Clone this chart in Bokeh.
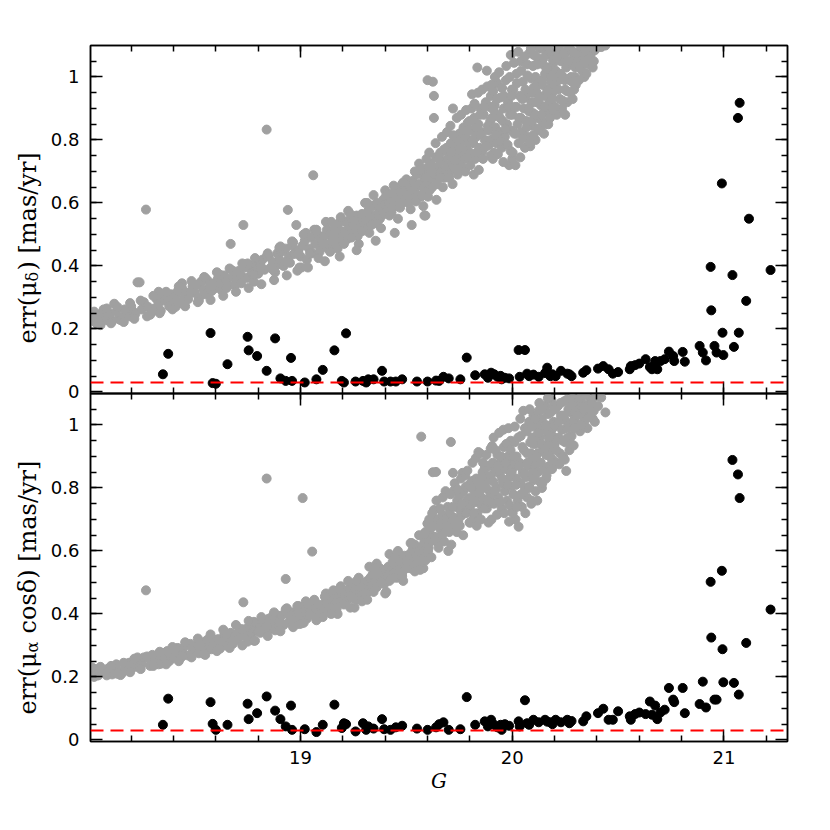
import math
import numpy as np
from bokeh.plotting import figure
from bokeh.models import (Range1d, LinearAxis, FixedTicker, NumeralTickFormatter,
                          CustomJSTickFormatter, Span)
from bokeh.core.properties import value
from bokeh.layouts import column, row
from bokeh.embed import file_html
from bokeh.resources import INLINE

# ---------------- data ----------------
# stars with good astrometry (black) : G, err(mu_delta), err(mu_alpha cos delta)
black_g = [18.35, 18.375, 18.575, 18.585, 18.60, 18.655, 18.75, 18.755, 18.795, 18.84,
           18.88, 18.905, 18.93, 18.955, 18.96, 19.02, 19.075, 19.105, 19.16, 19.195,
           19.205, 19.215, 19.26, 19.295, 19.31, 19.32, 19.345, 19.385, 19.395, 19.425,
           19.45, 19.48, 19.55, 19.60, 19.64, 19.655, 19.675, 19.70, 19.755, 19.785,
           19.825, 19.87, 19.885, 19.90, 19.915, 19.93, 19.945, 19.95, 19.965, 19.985,
           20.03, 20.035, 20.06, 20.07, 20.08, 20.10, 20.125, 20.155, 20.165, 20.18,
           20.19, 20.205, 20.23, 20.26, 20.27, 20.28, 20.335, 20.35, 20.405, 20.43,
           20.455, 20.475, 20.50, 20.555, 20.56, 20.58, 20.60, 20.63, 20.65, 20.66,
           20.675, 20.685, 20.70, 20.72, 20.74, 20.76, 20.765, 20.805, 20.815, 20.885,
           20.90, 20.915, 20.937, 20.94, 20.955, 20.965, 20.99, 20.993, 20.997, 21.04,
           21.047, 21.066, 21.07, 21.074, 21.105, 21.118, 21.22]
black_err_dec = [0.056, 0.121, 0.187, 0.028, 0.026, 0.088, 0.175, 0.132, 0.114, 0.067,
                 0.170, 0.043, 0.035, 0.108, 0.035, 0.030, 0.040, 0.070, 0.132, 0.035,
                 0.030, 0.186, 0.033, 0.035, 0.030, 0.040, 0.040, 0.067, 0.033, 0.033,
                 0.033, 0.040, 0.033, 0.033, 0.036, 0.035, 0.048, 0.043, 0.040, 0.109,
                 0.053, 0.056, 0.045, 0.061, 0.056, 0.048, 0.051, 0.040, 0.045, 0.043,
                 0.133, 0.048, 0.133, 0.058, 0.050, 0.055, 0.048, 0.060, 0.077, 0.050,
                 0.056, 0.050, 0.067, 0.058, 0.056, 0.050, 0.061, 0.069, 0.074, 0.082,
                 0.072, 0.058, 0.063, 0.072, 0.082, 0.085, 0.090, 0.104, 0.079, 0.072,
                 0.098, 0.072, 0.098, 0.104, 0.128, 0.114, 0.098, 0.127, 0.096, 0.146,
                 0.125, 0.100, 0.397, 0.259, 0.146, 0.125, 0.662, 0.188, 0.117, 0.371,
                 0.143, 0.870, 0.188, 0.918, 0.289, 0.550, 0.387]
black_err_ra = [0.048, 0.131, 0.120, 0.051, 0.032, 0.048, 0.115, 0.066, 0.085, 0.138,
                0.093, 0.066, 0.043, 0.109, 0.032, 0.034, 0.025, 0.048, 0.112, 0.038,
                0.053, 0.050, 0.027, 0.053, 0.032, 0.043, 0.036, 0.066, 0.034, 0.032,
                0.040, 0.045, 0.036, 0.032, 0.040, 0.050, 0.056, 0.032, 0.034, 0.136,
                0.048, 0.059, 0.043, 0.064, 0.048, 0.040, 0.048, 0.032, 0.050, 0.045,
                0.059, 0.043, 0.126, 0.053, 0.048, 0.064, 0.056, 0.064, 0.058, 0.056,
                0.050, 0.064, 0.056, 0.064, 0.053, 0.060, 0.059, 0.075, 0.085, 0.099,
                0.064, 0.064, 0.091, 0.075, 0.064, 0.082, 0.087, 0.082, 0.122, 0.080,
                0.109, 0.066, 0.087, 0.096, 0.165, 0.128, 0.120, 0.165, 0.085, 0.114,
                0.185, 0.103, 0.502, 0.325, 0.128, 0.128, 0.537, 0.288, 0.183, 0.889,
                0.181, 0.843, 0.144, 0.768, 0.308, float("nan"), 0.414]

# all other stars (gray)
gray_g = [
    18.01, 18.02, 18.03, 18.04, 18.05, 18.06, 18.08, 18.09,
    18.11, 18.12, 18.14, 18.15, 18.16, 18.18, 18.19,
    18.21, 18.22, 18.23, 18.24, 18.25, 18.27, 18.28, 18.29,
    18.31, 18.32, 18.33, 18.34, 18.35, 18.36, 18.38, 18.39,
    18.40, 18.41, 18.42, 18.43, 18.44, 18.45, 18.46, 18.47, 18.49,
    18.50, 18.51, 18.52, 18.53, 18.54, 18.55, 18.56, 18.57, 18.58, 18.59,
    18.60, 18.61, 18.62, 18.63, 18.64, 18.65, 18.66, 18.67, 18.68, 18.69,
    18.70, 18.71, 18.72, 18.73, 18.74, 18.75, 18.76, 18.77, 18.78, 18.79, 18.795,
    18.80, 18.81, 18.82, 18.83, 18.84, 18.85, 18.86, 18.87, 18.88, 18.89, 18.895,
    18.90, 18.91, 18.92, 18.93, 18.94, 18.945, 18.95, 18.96, 18.97, 18.98, 18.99, 18.995,
    19.00, 19.01, 19.02, 19.03, 19.04, 19.05, 19.055, 19.06, 19.07, 19.08, 19.09, 19.095, 19.10,
    19.11, 19.12, 19.125, 19.13, 19.14, 19.15, 19.16, 19.165, 19.17, 19.18, 19.19, 19.195, 19.20,
    19.21, 19.215, 19.22, 19.23, 19.24, 19.245, 19.25, 19.26, 19.265, 19.27, 19.28, 19.285, 19.29, 19.30,
    19.31, 19.315, 19.32, 19.33, 19.335, 19.34, 19.35, 19.355, 19.36, 19.37, 19.375, 19.38, 19.39, 19.395, 19.40,
    19.41, 19.415, 19.42, 19.43, 19.435, 19.44, 19.45, 19.455, 19.46, 19.47, 19.475, 19.48, 19.49, 19.495, 19.50,
    19.51, 19.515, 19.52, 19.53, 19.535, 19.54, 19.55, 19.555, 19.56, 19.57, 19.575, 19.58, 19.585, 19.59, 19.595, 19.60,
    19.60, 19.605, 19.61, 19.615, 19.62, 19.625, 19.63, 19.63, 19.635, 19.64, 19.645, 19.65, 19.66, 19.665, 19.67, 19.68, 19.69, 19.695,
    19.70, 19.705, 19.71, 19.715, 19.72, 19.725, 19.73, 19.735, 19.74, 19.745, 19.75, 19.755, 19.76, 19.765, 19.77, 19.775, 19.78, 19.785, 19.79, 19.795,
    19.80, 19.805, 19.81, 19.815, 19.82, 19.825, 19.83, 19.835, 19.84, 19.845, 19.85, 19.855, 19.86, 19.865, 19.87, 19.875, 19.88, 19.885, 19.89, 19.893, 19.896, 19.899,
    19.90, 19.905, 19.91, 19.913, 19.917, 19.92, 19.925, 19.93, 19.935, 19.94, 19.945, 19.95, 19.955, 19.96, 19.965, 19.97, 19.975, 19.98, 19.985, 19.99, 19.993, 19.996, 19.998, 20.00,
    20.00, 20.005, 20.01, 20.015, 20.02, 20.02, 20.025, 20.03, 20.035, 20.04, 20.04, 20.045, 20.05, 20.055, 20.06, 20.06, 20.065, 20.07, 20.07, 20.075, 20.08, 20.08, 20.085, 20.09, 20.09, 20.095, 20.10, 20.10,
    20.105, 20.11, 20.11, 20.115, 20.12, 20.12, 20.125, 20.13, 20.13, 20.135, 20.14, 20.14, 20.145, 20.15, 20.15, 20.155, 20.16, 20.16, 20.165, 20.17, 20.17, 20.175, 20.18, 20.18, 20.185, 20.19, 20.19, 20.195,
    20.20, 20.205, 20.21, 20.215, 20.22, 20.225, 20.23, 20.235, 20.24, 20.245, 20.25, 20.25, 20.255, 20.26, 20.265, 20.27, 20.275, 20.28, 20.285, 20.29, 20.295, 20.30,
    20.31, 20.315, 20.32, 20.33, 20.335, 20.34, 20.35, 20.355, 20.36, 20.37, 20.38, 20.39, 20.42, 20.44,
    18.015, 18.045, 18.07, 18.10, 18.13, 18.17, 18.20, 18.26, 18.30, 18.33, 18.37, 18.41, 18.44, 18.48, 18.52,
    18.55, 18.58, 18.62, 18.65, 18.68, 18.72, 18.75, 18.78, 18.81, 18.84, 18.87, 18.90, 18.93, 18.96, 18.99,
    19.005, 19.025, 19.045, 19.065, 19.085, 19.105, 19.12, 19.14, 19.155, 19.175, 19.19, 19.205, 19.225, 19.24, 19.255, 19.275, 19.29, 19.305,
    19.325, 19.345, 19.36, 19.38, 19.40, 19.42, 19.44, 19.46, 19.48, 19.50, 19.52, 19.54, 19.545, 19.56, 19.58, 19.59, 19.59, 19.595,
    19.602, 19.608, 19.618, 19.622, 19.638, 19.642, 19.652, 19.658, 19.668, 19.672, 19.678, 19.685, 19.692, 19.698,
    19.702, 19.708, 19.712, 19.718, 19.722, 19.728, 19.738, 19.742, 19.752, 19.758, 19.762, 19.768, 19.778, 19.782, 19.788, 19.798,
    19.802, 19.808, 19.812, 19.818, 19.822, 19.828, 19.832, 19.838, 19.842, 19.848, 19.852, 19.858, 19.862, 19.868, 19.878, 19.882, 19.888, 19.898,
    19.902, 19.908, 19.912, 19.918, 19.922, 19.928, 19.932, 19.938, 19.942, 19.948, 19.952, 19.958, 19.962, 19.968, 19.972, 19.978, 19.982, 19.988, 19.992, 19.997,
    20.002, 20.008, 20.012, 20.018, 20.022, 20.028, 20.032, 20.038, 20.042, 20.048, 20.052, 20.058, 20.062, 20.068, 20.072, 20.078, 20.082, 20.088, 20.092, 20.095, 20.098, 20.099,
    20.102, 20.108, 20.112, 20.118, 20.122, 20.128, 20.132, 20.138, 20.142, 20.148, 20.152, 20.158, 20.162, 20.168, 20.172, 20.178, 20.182, 20.188, 20.192, 20.196, 20.198, 20.199,
    20.202, 20.208, 20.218, 20.222, 20.228, 20.238, 20.242, 20.248, 20.258, 20.262, 20.268, 20.278, 20.282, 20.288, 20.292, 20.298,
    20.305, 20.318, 20.325, 20.338, 20.345, 20.365, 20.375, 20.385, 20.395, 20.405,
    18.025, 18.055, 18.085, 18.105, 18.135, 18.165, 18.195, 18.215, 18.245, 18.275,
    18.305, 18.335, 18.365, 18.395, 18.425, 18.455, 18.485, 18.515, 18.545, 18.575,
    18.605, 18.635, 18.665, 18.695, 18.725, 18.755, 18.785, 18.815, 18.845, 18.875,
    18.905, 18.935, 18.965, 18.985, 19.015, 19.035, 19.075, 19.115, 19.145, 19.185,
    19.235, 19.265, 19.315, 19.355, 19.405, 19.445, 19.485, 19.525, 19.565, 19.585,
]
gray_err_dec = [
    0.230, 0.225, 0.245, 0.215, 0.235, 0.250, 0.228, 0.240,
    0.225, 0.280, 0.232, 0.228, 0.238, 0.245, 0.240,
    0.255, 0.248, 0.348, 0.348, 0.262, 0.579, 0.270, 0.245,
    0.265, 0.295, 0.280, 0.258, 0.300, 0.290, 0.272, 0.310,
    0.290, 0.305, 0.320, 0.282, 0.330, 0.300, 0.315, 0.295, 0.335,
    0.315, 0.340, 0.300, 0.350, 0.325, 0.310, 0.355, 0.335, 0.320, 0.345,
    0.330, 0.360, 0.345, 0.320, 0.370, 0.352, 0.338, 0.470, 0.365, 0.340,
    0.355, 0.385, 0.370, 0.530, 0.395, 0.362, 0.400, 0.378, 0.350, 0.410, 0.390,
    0.375, 0.405, 0.420, 0.388, 0.833, 0.430, 0.395, 0.412, 0.380, 0.440, 0.405,
    0.420, 0.445, 0.400, 0.455, 0.578, 0.430, 0.410, 0.465, 0.438, 0.530, 0.450, 0.395,
    0.430, 0.465, 0.480, 0.420, 0.455, 0.490, 0.440, 0.688, 0.470, 0.500, 0.445, 0.485, 0.460,
    0.495, 0.470, 0.515, 0.455, 0.500, 0.480, 0.520, 0.465, 0.505, 0.535, 0.485, 0.510, 0.495,
    0.510, 0.540, 0.485, 0.525, 0.550, 0.500, 0.530, 0.515, 0.560, 0.495, 0.540, 0.520, 0.565, 0.530,
    0.545, 0.520, 0.575, 0.555, 0.530, 0.590, 0.560, 0.540, 0.600, 0.570, 0.550, 0.585, 0.610, 0.565, 0.595,
    0.580, 0.615, 0.600, 0.570, 0.630, 0.605, 0.590, 0.645, 0.615, 0.585, 0.630, 0.660, 0.610, 0.640, 0.625,
    0.600, 0.655, 0.630, 0.670, 0.615, 0.645, 0.690, 0.625, 0.660, 0.620, 0.700, 0.650, 0.680, 0.635, 0.710, 0.665,
    0.990, 0.700, 0.640, 0.725, 0.680, 0.985, 0.940, 0.870, 0.690, 0.745, 0.660, 0.715, 0.760, 0.700, 0.735, 0.680, 0.775, 0.720,
    0.750, 0.700, 0.790, 0.730, 0.900, 0.765, 0.710, 0.805, 0.745, 0.780, 0.820, 0.725, 0.795, 0.760, 0.840, 0.740, 0.810, 0.770, 0.855, 0.790,
    0.760, 0.830, 0.945, 0.790, 0.870, 0.740, 0.810, 1.030, 0.850, 0.775, 0.900, 0.825, 0.765, 0.880, 0.800, 0.920, 1.020, 0.845, 0.785, 0.905, 0.860, 0.940,
    0.800, 0.870, 0.955, 0.760, 0.910, 0.840, 0.790, 0.980, 0.880, 0.825, 0.935, 0.775, 0.860, 0.900, 0.810, 0.990, 0.850, 0.920, 0.720, 0.880, 1.070, 0.830, 0.960, 0.740,
    0.880, 0.960, 0.820, 0.720, 1.010, 0.905, 0.850, 0.790, 0.940, 0.870, 1.050, 0.825, 0.985, 0.900, 0.775, 0.935, 0.860, 1.040, 0.810, 0.950, 0.890, 1.075, 0.780, 0.920, 0.995, 0.845, 0.965, 0.885,
    0.920, 1.000, 0.800, 0.950, 1.060, 0.870, 0.980, 0.830, 1.090, 0.910, 0.990, 0.860, 1.040, 0.940, 0.820, 1.010, 0.890, 1.080, 0.960, 0.850, 1.030, 0.920, 1.000, 0.880, 1.070, 0.950, 0.900, 1.045,
    0.960, 1.020, 0.880, 1.080, 0.990, 0.930, 1.050, 0.900, 1.000, 1.070, 0.880, 0.960, 1.030, 0.920, 1.085, 0.990, 0.950, 1.040, 0.930, 1.065, 1.000, 0.975,
    1.050, 0.990, 1.080, 1.020, 1.060, 1.000, 1.010, 1.090, 1.040, 1.070, 1.030, 1.085, 1.095, 1.100,
    0.240, 0.220, 0.262, 0.248, 0.255, 0.262, 0.272, 0.285, 0.255, 0.318, 0.300, 0.270, 0.345, 0.318, 0.290,
    0.362, 0.335, 0.372, 0.330, 0.385, 0.345, 0.408, 0.372, 0.395, 0.430, 0.388, 0.458, 0.412, 0.478, 0.440,
    0.395, 0.505, 0.440, 0.515, 0.425, 0.470, 0.540, 0.445, 0.490, 0.455, 0.555, 0.470, 0.575, 0.490, 0.545, 0.470, 0.510, 0.600,
    0.505, 0.625, 0.535, 0.520, 0.640, 0.560, 0.655, 0.550, 0.600, 0.675, 0.580, 0.700, 0.605, 0.725, 0.590, 0.680, 0.560, 0.740,
    0.620, 0.760, 0.700, 0.650, 0.790, 0.610, 0.740, 0.680, 0.810, 0.650, 0.770, 0.705, 0.825, 0.690,
    0.680, 0.845, 0.760, 0.660, 0.815, 0.735, 0.870, 0.690, 0.775, 0.880, 0.715, 0.830, 0.700, 0.895, 0.745, 0.860,
    0.720, 0.900, 0.800, 0.690, 0.915, 0.840, 0.760, 0.950, 0.705, 0.880, 0.820, 0.960, 0.740, 0.905, 0.780, 0.970, 0.830, 0.750,
    0.975, 0.740, 0.895, 1.000, 0.815, 0.930, 0.755, 1.015, 0.870, 0.795, 0.965, 0.730, 0.940, 0.835, 1.035, 0.785, 0.905, 1.000, 0.765, 0.940,
    0.760, 1.045, 0.905, 0.820, 0.980, 1.080, 0.870, 0.745, 1.020, 0.930, 0.805, 1.065, 0.960, 0.840, 1.005, 0.900, 0.790, 1.090, 0.860, 0.950, 1.035, 0.815,
    1.070, 0.880, 0.970, 1.040, 0.835, 0.935, 1.095, 0.880, 0.975, 1.060, 0.905, 0.850, 1.025, 0.955, 1.090, 0.870, 0.985, 0.930, 1.055, 0.895, 1.010, 0.975,
    0.905, 1.060, 0.960, 1.095, 1.010, 0.925, 1.075, 0.990, 0.955, 1.050, 1.095, 1.000, 0.985, 1.080, 0.960, 1.030,
    1.075, 1.035, 1.095, 1.045, 1.080, 1.060, 1.095, 1.050, 1.090, 1.100,
    0.255, 0.212, 0.265, 0.218, 0.270, 0.222, 0.282, 0.232, 0.290, 0.240,
    0.305, 0.250, 0.318, 0.262, 0.335, 0.272, 0.352, 0.285, 0.365, 0.292,
    0.380, 0.305, 0.392, 0.318, 0.408, 0.330, 0.425, 0.342, 0.440, 0.355,
    0.462, 0.370, 0.475, 0.385, 0.500, 0.395, 0.515, 0.415, 0.540, 0.430,
    0.565, 0.450, 0.600, 0.480, 0.625, 0.505, 0.665, 0.530, 0.705, 0.560,
]
gray_err_ra = [
    0.215, 0.210, 0.225, 0.205, 0.222, 0.218, 0.212, 0.226,
    0.208, 0.222, 0.216, 0.206, 0.214, 0.238, 0.245,
    0.250, 0.232, 0.262, 0.255, 0.240, 0.475, 0.258, 0.235,
    0.248, 0.268, 0.255, 0.242, 0.275, 0.260, 0.250, 0.262,
    0.262, 0.275, 0.292, 0.258, 0.285, 0.270, 0.300, 0.268, 0.280,
    0.290, 0.300, 0.275, 0.310, 0.295, 0.282, 0.318, 0.300, 0.288, 0.305,
    0.305, 0.320, 0.298, 0.312, 0.335, 0.300, 0.325, 0.340, 0.315, 0.330,
    0.318, 0.345, 0.330, 0.437, 0.352, 0.325, 0.360, 0.340, 0.315, 0.370, 0.348,
    0.345, 0.360, 0.378, 0.352, 0.830, 0.385, 0.355, 0.372, 0.348, 0.395, 0.362,
    0.380, 0.395, 0.365, 0.511, 0.400, 0.375, 0.372, 0.405, 0.388, 0.398, 0.410, 0.368,
    0.392, 0.768, 0.415, 0.385, 0.405, 0.420, 0.598, 0.398, 0.412, 0.428, 0.395, 0.418, 0.405,
    0.420, 0.440, 0.410, 0.432, 0.448, 0.425, 0.455, 0.435, 0.415, 0.462, 0.440, 0.470, 0.445,
    0.455, 0.440, 0.470, 0.480, 0.450, 0.492, 0.465, 0.478, 0.445, 0.500, 0.470, 0.485, 0.460, 0.495,
    0.480, 0.505, 0.470, 0.515, 0.490, 0.525, 0.500, 0.535, 0.485, 0.520, 0.545, 0.505, 0.530, 0.495, 0.540,
    0.520, 0.550, 0.505, 0.540, 0.565, 0.530, 0.555, 0.515, 0.575, 0.545, 0.560, 0.530, 0.585, 0.550, 0.570,
    0.560, 0.590, 0.545, 0.605, 0.575, 0.620, 0.585, 0.560, 0.600, 0.963, 0.615, 0.580, 0.630, 0.595, 0.640, 0.687,
    0.687, 0.610, 0.655, 0.630, 0.675, 0.850, 0.730, 0.687, 0.645, 0.851, 0.700, 0.625, 0.670, 0.690, 0.715, 0.660, 0.705, 0.740,
    0.690, 0.720, 0.946, 0.675, 0.848, 0.792, 0.705, 0.740, 0.760, 0.695, 0.775, 0.730, 0.712, 0.848, 0.790, 0.745, 0.803, 0.725, 0.765, 0.810,
    0.740, 0.770, 0.822, 0.700, 0.795, 0.755, 0.830, 0.720, 0.914, 0.780, 0.810, 0.745, 0.850, 0.765, 0.862, 0.800, 0.735, 0.825, 0.870, 0.790, 0.760, 0.840,
    0.780, 0.933, 0.820, 0.750, 0.870, 0.854, 0.800, 0.905, 0.770, 0.845, 0.880, 0.735, 0.815, 0.930, 0.790, 0.860, 0.760, 0.900, 0.693, 0.835, 0.950, 0.805, 0.875, 0.725,
    0.860, 0.780, 0.945, 0.700, 0.830, 0.900, 0.760, 0.677, 0.880, 0.815, 0.965, 0.740, 0.850, 0.920, 0.795, 0.990, 0.835, 0.770, 0.910, 0.870, 1.010, 0.805, 0.945, 0.750, 0.885, 0.960, 0.825, 1.030,
    0.870, 0.940, 0.790, 1.000, 0.850, 0.910, 1.045, 0.820, 0.960, 0.880, 1.020, 0.800, 0.930, 0.990, 0.860, 1.060, 0.905, 0.830, 0.975, 0.940, 1.035, 0.870, 0.995, 0.920, 1.080, 0.890, 0.965, 1.010,
    0.940, 1.000, 0.880, 1.060, 0.960, 0.910, 1.030, 0.985, 0.900, 1.075, 0.945, 1.015, 0.854, 0.990, 1.050, 0.920, 1.040, 0.965, 1.085, 0.935, 1.020, 1.060,
    1.000, 1.050, 0.980, 1.070, 1.030, 1.010, 1.060, 0.990, 1.040, 1.080, 1.020, 1.010, 1.087, 1.040,
    0.230, 0.205, 0.215, 0.220, 0.240, 0.228, 0.235, 0.262, 0.270, 0.240, 0.282, 0.290, 0.265, 0.305, 0.298,
    0.270, 0.322, 0.290, 0.335, 0.305, 0.352, 0.312, 0.375, 0.340, 0.360, 0.395, 0.372, 0.415, 0.380, 0.425,
    0.370, 0.440, 0.398, 0.445, 0.430, 0.390, 0.465, 0.420, 0.475, 0.400, 0.488, 0.430, 0.505, 0.455, 0.420, 0.515, 0.440, 0.465,
    0.550, 0.470, 0.560, 0.500, 0.465, 0.590, 0.515, 0.600, 0.520, 0.545, 0.625, 0.535, 0.560, 0.650, 0.545, 0.660, 0.570, 0.610,
    0.600, 0.700, 0.580, 0.720, 0.640, 0.760, 0.610, 0.735, 0.650, 0.770, 0.630, 0.790, 0.680, 0.600,
    0.660, 0.780, 0.620, 0.740, 0.700, 0.815, 0.660, 0.795, 0.680, 0.830, 0.750, 0.650, 0.840, 0.720, 0.855, 0.690,
    0.690, 0.800, 0.880, 0.720, 0.760, 0.895, 0.680, 0.820, 0.785, 0.910, 0.700, 0.835, 0.880, 0.735, 0.905, 0.760, 0.690, 0.925,
    0.700, 0.880, 0.960, 0.790, 0.920, 0.715, 0.870, 0.975, 0.755, 0.900, 0.830, 0.985, 0.720, 0.880, 0.940, 0.810, 0.990, 0.745, 0.920, 0.850,
    0.720, 0.900, 0.995, 0.810, 0.740, 0.960, 0.870, 1.020, 0.780, 0.930, 1.045, 0.845, 0.720, 0.980, 0.880, 0.800, 1.050, 0.910, 0.760, 0.995, 0.850, 0.940,
    0.830, 1.020, 0.900, 0.760, 0.975, 1.070, 0.880, 0.940, 0.815, 1.050, 0.925, 1.000, 0.840, 1.085, 0.960, 0.900, 1.040, 0.860, 0.990, 1.060, 0.930, 1.000,
    1.050, 0.920, 1.010, 0.875, 1.070, 0.950, 1.030, 0.890, 1.080, 0.960, 1.000, 0.940, 1.065, 1.010, 0.990, 1.040,
    1.030, 1.085, 1.000, 1.050, 1.095, 1.025, 1.070, 1.045, 1.090, 1.060,
    0.200, 0.232, 0.205, 0.235, 0.210, 0.245, 0.215, 0.258, 0.225, 0.265,
    0.235, 0.280, 0.240, 0.295, 0.250, 0.310, 0.262, 0.322, 0.272, 0.335,
    0.282, 0.350, 0.292, 0.365, 0.300, 0.378, 0.315, 0.390, 0.330, 0.405,
    0.345, 0.418, 0.358, 0.425, 0.372, 0.432, 0.380, 0.455, 0.400, 0.478,
    0.420, 0.505, 0.445, 0.545, 0.470, 0.580, 0.505, 0.625, 0.540, 0.655,
]

reference_err = 0.03  # red dashed line

x_major_ticks = [19, 20, 21]
x_minor_ticks = [18.2, 18.4, 18.6, 18.8, 19.0, 19.2, 19.4, 19.6, 19.8, 20.0,
                 20.2, 20.4, 20.6, 20.8, 21.0, 21.2]
y_major_ticks = [0, 0.2, 0.4, 0.6, 0.8, 1.0]
y_minor_ticks = [0.05, 0.1, 0.15, 0.2, 0.25, 0.3, 0.35, 0.4, 0.45, 0.5, 0.55,
                 0.6, 0.65, 0.7, 0.75, 0.8, 0.85, 0.9, 0.95, 1.0, 1.05]

# y-axis title pieces: (text, font size, baseline x, start y) in page pixels
top_title = [("err(μ", "24px", 27, 343), ("δ", "16px", 32, 281), (") [mas/yr]", "24px", 27, 270)]
bottom_title = [("err(μ", "24px", 27, 714), ("α", "16px", 32, 652), ("cosδ) [mas/yr]", "24px", 27, 633)]

# ---------------- styling ----------------
GRAY = "#a0a0a0"
TICK_FONT = "DejaVu Sans"
LABEL_FONT = "DejaVu Serif"
PAGE_H = 821
TITLE_W = 44

x_range = Range1d(18.008, 21.30)


def style_axis(ax, ticker, show_labels):
    ax.ticker = ticker
    ax.major_tick_in = 12
    ax.major_tick_out = 0
    ax.minor_tick_in = 6
    ax.minor_tick_out = 0
    ax.major_tick_line_color = "black"
    ax.minor_tick_line_color = "black"
    ax.major_tick_line_width = 1.5
    ax.minor_tick_line_width = 1.5
    ax.axis_line_color = "black"
    ax.axis_line_width = 1.5
    if not show_labels:
        ax.formatter = CustomJSTickFormatter(code="return ''")
        ax.major_label_text_font_size = "0px"
        ax.major_label_standoff = 0
    else:
        ax.major_label_text_font = TICK_FONT
        ax.major_label_text_font_size = "18px"
        ax.major_label_text_color = "black"


def make_panel(height, border_top, border_bottom, show_x_labels):
    p = figure(width=800 - TITLE_W, height=height, x_range=x_range,
               y_range=Range1d(-0.005, 1.1),
               output_backend="svg", toolbar_location=None,
               min_border_left=90 - TITLE_W, min_border_right=13,
               min_border_top=border_top, min_border_bottom=border_bottom)
    p.grid.visible = False
    p.outline_line_color = "black"
    p.outline_line_width = 1.5
    p.background_fill_color = None
    p.border_fill_color = None

    above = LinearAxis()
    right = LinearAxis()
    p.add_layout(above, "above")
    p.add_layout(right, "right")
    below = p.below[0]
    left = p.left[0]

    style_axis(below, FixedTicker(ticks=x_major_ticks, minor_ticks=x_minor_ticks), show_x_labels)
    style_axis(above, FixedTicker(ticks=x_major_ticks, minor_ticks=x_minor_ticks), False)
    style_axis(left, FixedTicker(ticks=y_major_ticks, minor_ticks=y_minor_ticks), True)
    style_axis(right, FixedTicker(ticks=y_major_ticks, minor_ticks=y_minor_ticks), False)

    left.formatter = NumeralTickFormatter(format="0.[0]")
    left.major_label_standoff = 11
    if show_x_labels:
        below.major_label_standoff = 9
        below.axis_label = "G"
        below.axis_label_text_font = LABEL_FONT
        below.axis_label_text_font_style = "italic"
        below.axis_label_text_font_size = "20px"
        below.axis_label_text_color = "black"
        below.axis_label_standoff = 2
    return p


# ---------------- top panel: err(mu_delta) ----------------
top = make_panel(45 + 348 + 8, 45, 8, False)
top.scatter(np.array(gray_g, dtype=float), np.array(gray_err_dec, dtype=float),
            size=9, fill_color=GRAY, line_color=GRAY)
top.scatter(np.array(black_g, dtype=float), np.array(black_err_dec, dtype=float),
            size=9, fill_color="black", line_color="black")
top.add_layout(Span(location=reference_err, dimension="width", line_color="red",
                    line_width=2, line_dash="13 7"))

# ---------------- bottom panel: err(mu_alpha cos delta) ----------------
bottom = make_panel(8 + 348 + 80, 8, 80, True)
bottom.scatter(np.array(gray_g, dtype=float), np.array(gray_err_ra, dtype=float),
               size=9, fill_color=GRAY, line_color=GRAY)
bottom.scatter(np.array(black_g, dtype=float), np.array(black_err_ra, dtype=float),
               size=9, fill_color="black", line_color="black")
bottom.add_layout(Span(location=reference_err, dimension="width", line_color="red",
                       line_width=2, line_dash="13 7"))
bottom.margin = (-16, 0, 0, 0)  # frames touch; top panel's "0" label may overhang

# ---------------- narrow strip carrying the rotated y titles ----------------
titles = figure(width=TITLE_W, height=PAGE_H, x_range=Range1d(0, TITLE_W),
                y_range=Range1d(PAGE_H, 0), output_backend="svg", toolbar_location=None,
                x_axis_location=None, y_axis_location=None, min_border=0)
titles.grid.visible = False
titles.outline_line_color = None
for pieces in (top_title, bottom_title):
    for txt, size, bx, sy in pieces:
        titles.text(x=[bx], y=[sy], text=[txt], angle=math.pi / 2,
                    text_font=value(LABEL_FONT), text_font_size=value(size),
                    text_align="left", text_baseline="alphabetic", text_color="black")

layout = row(titles, column(top, bottom, spacing=0), spacing=0)
open("out.html", "w").write(file_html(layout, INLINE))
